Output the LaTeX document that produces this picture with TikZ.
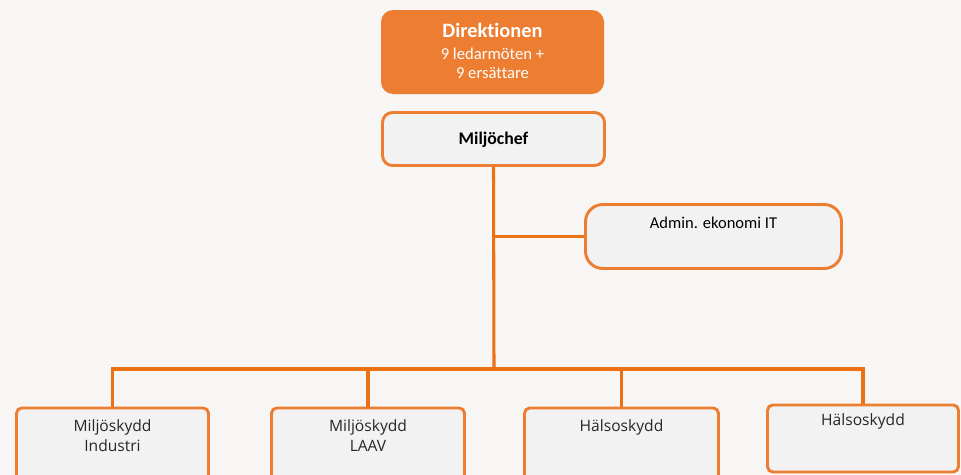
\documentclass[tikz,border=0pt]{standalone}
\usepackage{fontspec}
\setmainfont{Carlito}[RawFeature=-liga]
\newfontfamily\unitfont{Open Sans}
\definecolor{bgpaper}{RGB}{247,246,244}
\definecolor{boardorange}{RGB}{237,125,49}
\definecolor{linkorange}{RGB}{237,112,18}
\definecolor{boxgray}{RGB}{242,242,242}
\definecolor{textdark}{RGB}{38,38,38}
\tikzset{
  board/.style={rectangle, rounded corners=9pt, fill=boardorange, draw=none, inner sep=0pt},
  chiefbox/.style={rectangle, rounded corners=7.5pt, fill=boxgray, draw=boardorange, line width=2.2pt, inner sep=0pt},
  adminbox/.style={rectangle, rounded corners=13pt, fill=boxgray, draw=boardorange, line width=2.2pt, inner sep=0pt},
  unitbox/.style={rectangle, rounded corners=4pt, fill=boxgray, draw=boardorange, line width=2.2pt, inner sep=0pt},
  link/.style={draw=linkorange, line width=2.3pt},
  unittext/.style={font=\unitfont\fontsize{11.7}{15}\selectfont, text=textdark, align=center, anchor=north, inner sep=0pt},
}
\begin{document}
\begin{tikzpicture}[x=0.75pt, y=-0.75pt]
  \clip (0,0) rectangle (961,475);
  \fill[bgpaper] (0,0) rectangle (961,475);
  \useasboundingbox (0,0) rectangle (961,475);

  % board and chief
  \node[board, minimum width=167.25pt, minimum height=63pt] (dir) at (492.5,52) {};
  \node[anchor=north, inner sep=0pt, text=white, align=center, font=\fontsize{15.3}{17}\selectfont\bfseries] (dirt) at (492.5,23) {Direktionen};
  \node[anchor=north, inner sep=0pt, text=white, align=center, font=\fontsize{12.5}{14.3}\selectfont] (dirs) at (492.5,48) {9 ledarmöten +\\9 ersättare};

  \node[chiefbox, minimum width=166.5pt, minimum height=39.75pt] (mc) at (493.5,139) {};
  \node[inner sep=0pt, font=\fontsize{13.3}{15}\selectfont\bfseries, text=black] (mct) at (493.5,140) {Miljöchef};

  % staff function
  \node[adminbox, minimum width=192pt, minimum height=48pt] (adm) at (713.5,236.5) {};
  \node[anchor=north, inner sep=0pt, font=\fontsize{12.4}{14}\selectfont, text=black] (admt) at (713.5,217) {Admin. ekonomi IT};

  % units
  \node[unitbox, minimum width=144pt, minimum height=90pt, anchor=north] (b1) at (112.5,406.5) {};
  \node[unitbox, minimum width=144.75pt, minimum height=90pt, anchor=north] (b2) at (368,406.5) {};
  \node[unitbox, minimum width=145.5pt, minimum height=90pt, anchor=north] (b3) at (621.5,406.5) {};
  \node[unitbox, minimum width=143.25pt, minimum height=50.25pt, anchor=north] (b4) at (863,403.5) {};
  \node[unittext] (b1t) at (112.5,419) {Miljöskydd\\Industri};
  \node[unittext] (b2t) at (368,419) {Miljöskydd\\LAAV};
  \node[unittext] (b3t) at (621.5,419) {Hälsoskydd};
  \node[unittext] (b4t) at (863,413) {Hälsoskydd};

  % connectors
  \coordinate (bus) at (494,369);
  \draw[link] (mc.south) -- (bus);
  \draw[link] (mc.south |- adm.west) -- (adm.west);
  \draw[link] (b1.north) |- (bus) -| (b4.north);
  \draw[link] (b2.north) -- (b2.north |- bus);
  \draw[link] (b3.north) -- (b3.north |- bus);
\end{tikzpicture}
\end{document}
